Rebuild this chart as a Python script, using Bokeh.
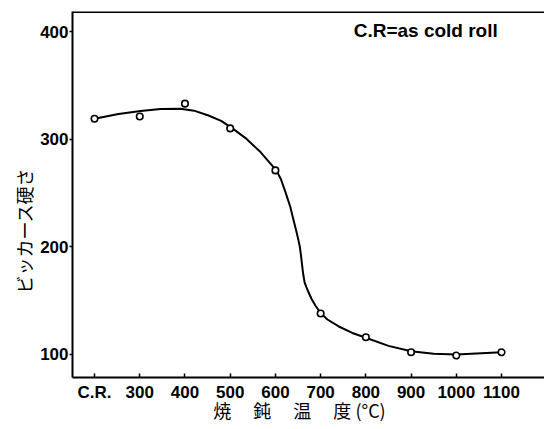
from bokeh.plotting import figure
from bokeh.models import Range1d, Span, Label, FixedTicker
from bokeh.embed import file_html
from bokeh.resources import INLINE

# Annealing temperature positions (C.R. = as cold rolled, plotted at the 200 slot)
temps = [200, 300, 400, 500, 600, 700, 800, 900, 1000, 1100]
tick_labels = ["C.R.", "300", "400", "500", "600", "700", "800", "900", "1000", "1100"]
hardness = [319, 321, 333, 310, 271, 138, 116, 102, 99, 102]

# Hand-drawn smooth curve
curve_t = [200, 253, 302, 346, 390, 420, 452, 480, 505, 534, 567, 602, 612, 622,
           633, 640, 646, 651, 654, 656.5, 659, 661.5, 664.5, 668, 673, 680, 689,
           700, 715, 740, 770, 800, 850, 900, 950, 1000, 1100]
curve_v = [319, 323.4, 326.2, 328, 328.2, 326.5, 322, 317, 310, 301, 288, 271, 263, 251,
           237, 225, 215, 206, 200, 192, 183, 174.5, 167, 163, 158, 151.5, 145,
           138.5, 132.5, 126, 120, 115.5, 108, 103, 100.7, 100, 102]

y_ticks = [100, 200, 300, 400]

p = figure(width=544, height=429, output_backend="svg", toolbar_location=None,
           x_range=Range1d(151.3, 1195), y_range=Range1d(78.6, 418.6),
           min_border_left=72, min_border_right=0, min_border_top=11,
           min_border_bottom=52)
p.outline_line_color = None
p.grid.visible = False
p.background_fill_color = "white"
p.border_fill_color = "white"

p.xaxis.ticker = FixedTicker(ticks=temps)
p.xaxis.major_label_overrides = {t: l for t, l in zip(temps, tick_labels)}
p.yaxis.ticker = FixedTicker(ticks=y_ticks)

for ax in (p.xaxis, p.yaxis):
    ax.axis_line_width = 2
    ax.axis_line_color = "black"
    ax.major_tick_line_width = 1.5
    ax.major_tick_line_color = "black"
    ax.minor_tick_line_color = None
    ax.major_label_text_font = "Liberation Sans"
    ax.major_label_text_font_size = "17px"
    ax.major_label_text_font_style = "bold"
    ax.major_label_text_color = "black"
    ax.axis_label_text_font = "Noto Sans CJK JP"
    ax.axis_label_text_font_size = "18px"
    ax.axis_label_text_font_style = "normal"
    ax.axis_label_text_color = "black"

p.xaxis.major_tick_in = 4
p.xaxis.major_tick_out = 0
p.xaxis.major_label_standoff = 5
p.yaxis.major_tick_in = 0
p.yaxis.major_tick_out = 3
p.yaxis.major_label_standoff = 1

p.xaxis.axis_label = "焼　 鈍　 温　 度 (°C)　"
p.xaxis.axis_label_standoff = -8
p.yaxis.axis_label = "ビッカース硬さ　　　　"
p.yaxis.axis_label_standoff = 0

p.add_layout(Span(location=418.1, dimension="width", line_color="black", line_width=2))

p.line(curve_t, curve_v, line_color="black", line_width=2)
p.scatter(temps, hardness, marker="circle", size=6.5, fill_color="white",
          line_color="black", line_width=1.6)

p.add_layout(Label(x=773, y=401, text="C.R=as cold roll", text_align="left",
                   text_baseline="middle", text_font="Liberation Sans",
                   text_font_size="19px", text_font_style="bold",
                   text_color="black"))

open("out.html", "w").write(file_html(p, INLINE))
